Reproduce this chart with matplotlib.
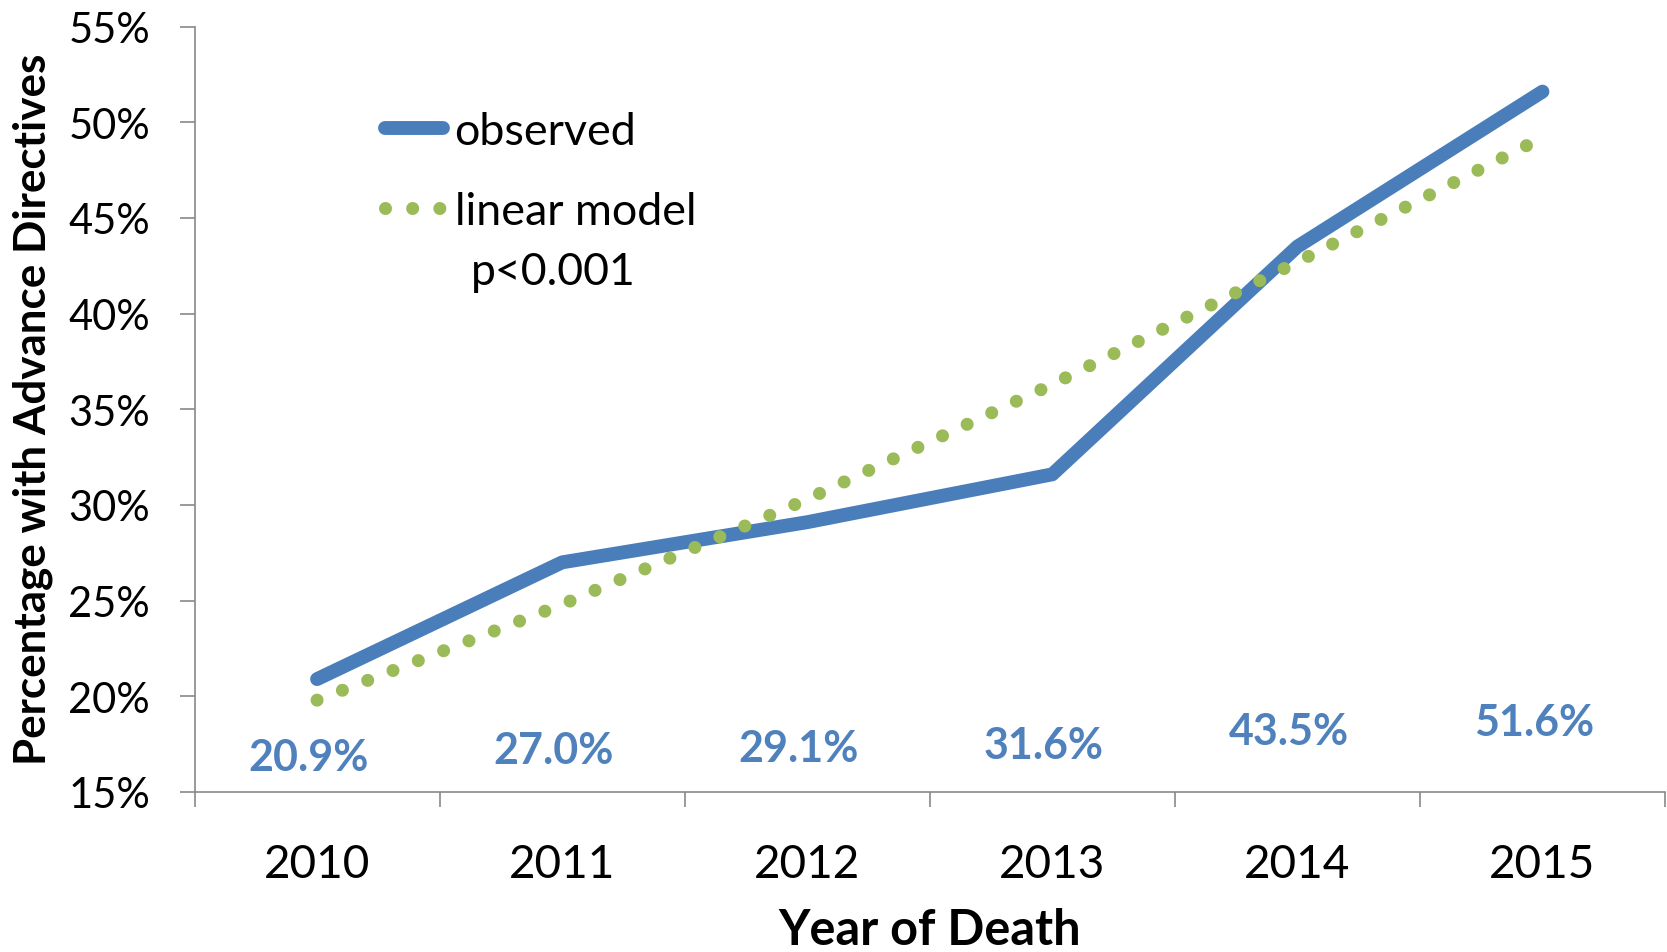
import numpy as np
import matplotlib
matplotlib.use("Agg")
import matplotlib.pyplot as plt
from matplotlib.ticker import FixedLocator, FuncFormatter

plt.rcParams["font.family"] = ["Lato", "DejaVu Sans"]

years = ["2010", "2011", "2012", "2013", "2014", "2015"]
observed = [20.9, 27.0, 29.1, 31.6, 43.5, 51.6]
linear_model = [19.8, 24.8, 30.3, 36.3, 42.7, 49.2]
y_ticks = [15, 20, 25, 30, 35, 40, 45, 50, 55]

BLUE = "#4a7ebb"
GREEN = "#9bbb59"
LABEL_BLUE = "#4f81bd"
AXIS_GRAY = "#898989"

fig = plt.figure(figsize=(16.67, 9.53), dpi=100)
ax = fig.add_axes([0.1167, 0.1679, 0.8821, 0.8032])

x = np.arange(len(years))
ax.plot(x, observed, color=BLUE, lw=10, solid_capstyle="round",
        solid_joinstyle="round", label="observed", zorder=3)
ax.plot(x, linear_model, color=GREEN, lw=9.4, linestyle=(0, (0.001, 2.08)),
        dash_capstyle="round", label="linear model", zorder=4)

# value labels sit low in the plot, rising slightly with the value
for xi, v in zip(x, observed):
    ax.annotate(f"{v:.1f}%", (xi, 15.57 + 0.06 * v), xytext=(-6, 0),
                textcoords="offset points", color=LABEL_BLUE, fontsize=31,
                fontweight="bold", ha="center", va="center")

ax.set_xlim(-0.5, len(years) - 0.5)
ax.set_ylim(15, 55)

ax.spines["top"].set_visible(False)
ax.spines["right"].set_visible(False)
for s in ("left", "bottom"):
    ax.spines[s].set_color(AXIS_GRAY)
    ax.spines[s].set_linewidth(1.2)

ax.yaxis.set_major_locator(FixedLocator(y_ticks))
ax.yaxis.set_major_formatter(FuncFormatter(lambda v, p: f"{v:.0f}%"))
ax.tick_params(axis="y", direction="out", length=11, width=1.2,
               color=AXIS_GRAY, labelsize=30, pad=21)

ax.xaxis.set_major_locator(FixedLocator(np.arange(len(years) + 1) - 0.5))
ax.xaxis.set_major_formatter(FuncFormatter(lambda v, p: ""))
ax.xaxis.set_minor_locator(FixedLocator(x))
ax.set_xticklabels(years, minor=True)
ax.tick_params(axis="x", which="major", direction="out", length=11,
               width=1.2, color=AXIS_GRAY)
ax.tick_params(axis="x", which="minor", length=0, labelsize=33, pad=37)

ax.legend(loc="upper left", bbox_to_anchor=(385 / 1667, 1 - 112 / 953),
          bbox_transform=fig.transFigure, frameon=False, fontsize=32.3,
          handlelength=1.3, handletextpad=0.25, labelspacing=0.87,
          borderpad=0, borderaxespad=0)
ax.text(471 / 1667, 1 - 273 / 953, "p<0.001", transform=fig.transFigure,
        fontsize=32, ha="left", va="center")

fig.text(33 / 1667, 1 - 409 / 953, "Percentage with Advance Directives",
         rotation=90, ha="center", va="center", fontsize=31.7, fontweight="bold")
fig.text(930 / 1667, 0.008, "Year of Death", ha="center", va="baseline",
         fontsize=35, fontweight="bold")

fig.savefig("out.png", dpi=100)
